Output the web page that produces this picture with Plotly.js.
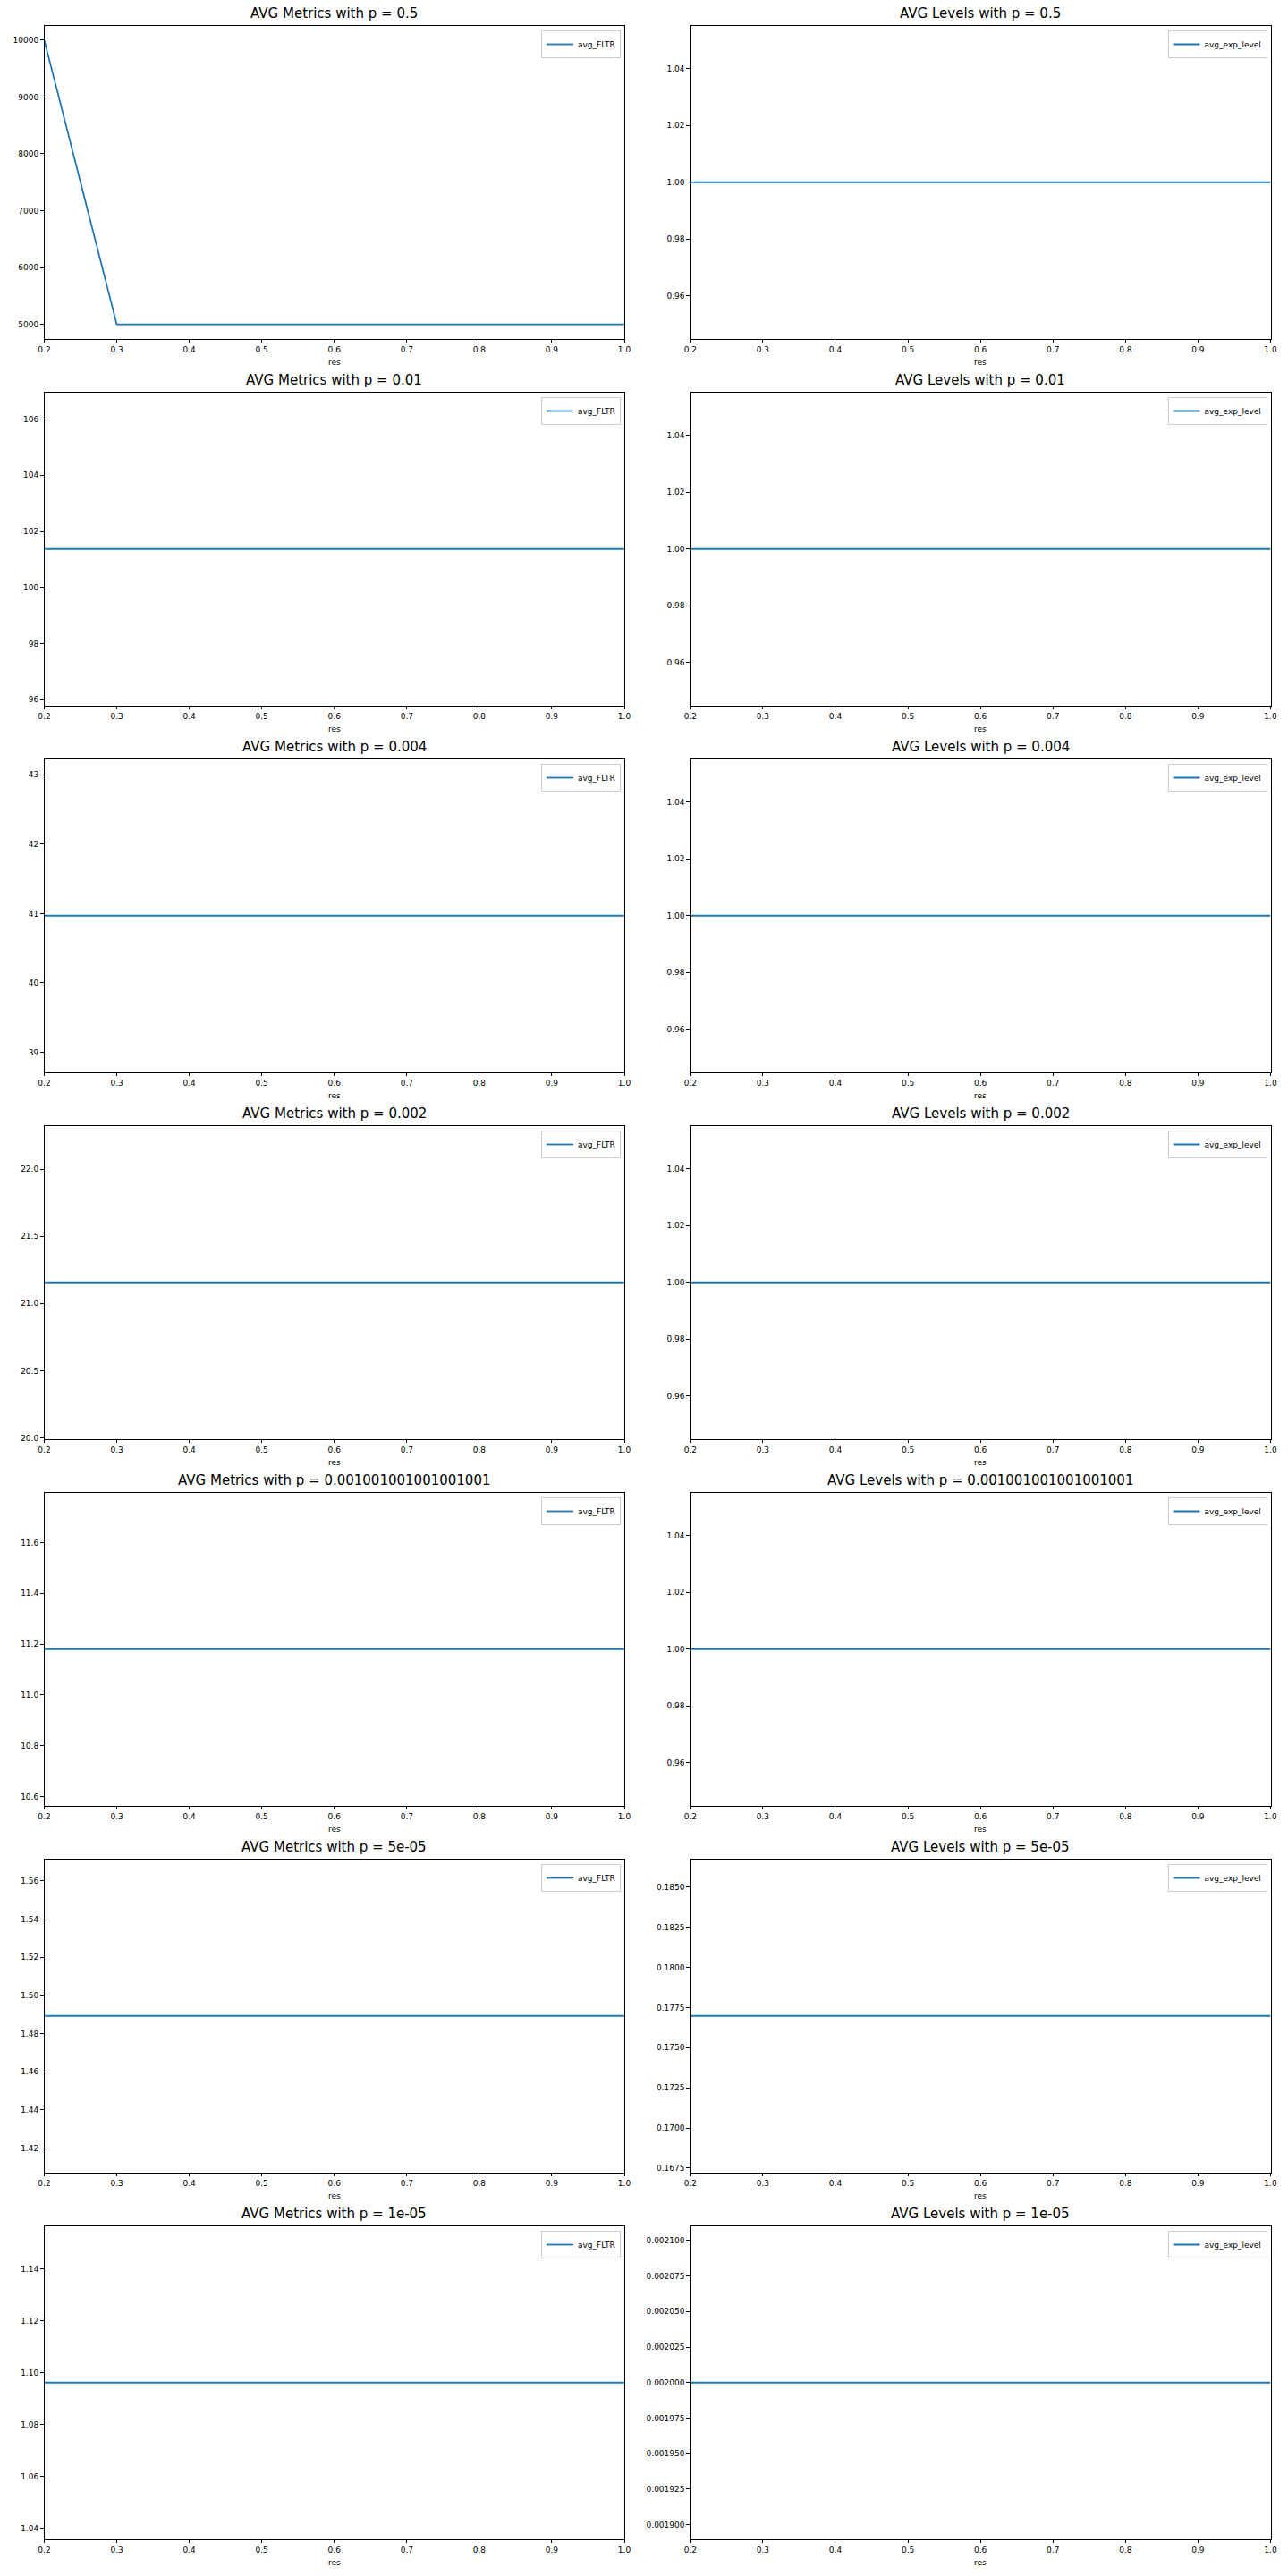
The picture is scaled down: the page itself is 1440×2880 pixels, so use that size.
<!DOCTYPE html>
<html>
<head>
<meta charset="utf-8">
<script src="https://cdn.plot.ly/plotly-3.0.1.min.js"></script>
<style>
  html, body { margin: 0; padding: 0; background: #fff; }
  #chart { width: 1440px; height: 2880px; }
</style>
</head>
<body>
<div id="chart"></div>
<script>
// ---- data ----
const res = [0.2, 0.3, 0.4, 0.5, 0.6, 0.7, 0.8, 0.9, 1.0];
const pLabels = ['0.5', '0.01', '0.004', '0.002', '0.001001001001001001', '5e-05', '1e-05'];

// avg_FLTR per p
const fltr_p0_5     = [10000, 5000, 5000, 5000, 5000, 5000, 5000, 5000, 5000];
const fltr_p0_01    = [101.37, 101.37, 101.37, 101.37, 101.37, 101.37, 101.37, 101.37, 101.37];
const fltr_p0_004   = [40.97, 40.97, 40.97, 40.97, 40.97, 40.97, 40.97, 40.97, 40.97];
const fltr_p0_002   = [21.157, 21.157, 21.157, 21.157, 21.157, 21.157, 21.157, 21.157, 21.157];
const fltr_p0_001   = [11.18, 11.18, 11.18, 11.18, 11.18, 11.18, 11.18, 11.18, 11.18];
const fltr_p5e_05   = [1.4892, 1.4892, 1.4892, 1.4892, 1.4892, 1.4892, 1.4892, 1.4892, 1.4892];
const fltr_p1e_05   = [1.0962, 1.0962, 1.0962, 1.0962, 1.0962, 1.0962, 1.0962, 1.0962, 1.0962];

// avg_exp_level per p
const lvl_p0_5   = [1, 1, 1, 1, 1, 1, 1, 1, 1];
const lvl_p0_01  = [1, 1, 1, 1, 1, 1, 1, 1, 1];
const lvl_p0_004 = [1, 1, 1, 1, 1, 1, 1, 1, 1];
const lvl_p0_002 = [1, 1, 1, 1, 1, 1, 1, 1, 1];
const lvl_p0_001 = [1, 1, 1, 1, 1, 1, 1, 1, 1];
const lvl_p5e_05 = [0.17698, 0.17698, 0.17698, 0.17698, 0.17698, 0.17698, 0.17698, 0.17698, 0.17698];
const lvl_p1e_05 = [0.002, 0.002, 0.002, 0.002, 0.002, 0.002, 0.002, 0.002, 0.002];

// y tick steps / formats (tick labels)
const fltrTickStep = [1000, 2, 1, 0.5, 0.2, 0.02, 0.02];
const fltrTickFmt  = ['d', 'd', 'd', '.1f', '.1f', '.2f', '.2f'];
const lvlTickStep  = [0.02, 0.02, 0.02, 0.02, 0.02, 0.0025, 0.000025];
const lvlTickFmt   = ['.2f', '.2f', '.2f', '.2f', '.2f', '.4f', '.6f'];

const fltrSeries = [fltr_p0_5, fltr_p0_01, fltr_p0_004, fltr_p0_002, fltr_p0_001, fltr_p5e_05, fltr_p1e_05];
const lvlSeries  = [lvl_p0_5, lvl_p0_01, lvl_p0_004, lvl_p0_002, lvl_p0_001, lvl_p5e_05, lvl_p1e_05];

// ---- layout helpers ----
const W = 1440, H = 2880;
const FONT = 'DejaVu Sans, Liberation Sans, sans-serif';
const colX = [[49.5, 698], [771.8, 1420.5]];
const rowTop0 = 29, rowStep = 410, rowH = 349.5;
const C0 = '#1f77b4';

// matplotlib-like autoscale
function mplRange(vals) {
  let lo = Math.min(...vals), hi = Math.max(...vals);
  if (hi - lo <= 1e-12 * Math.max(Math.abs(lo), Math.abs(hi))) {
    if (hi === 0) { lo = -0.05; hi = 0.05; }
    else { lo -= 0.05 * Math.abs(lo); hi += 0.05 * Math.abs(hi); }
  }
  const m = 0.05 * (hi - lo);
  return [lo - m, hi + m];
}

const traces = [];
const layout = {
  width: W, height: H,
  margin: {l: 0, r: 0, t: 0, b: 0},
  paper_bgcolor: '#ffffff', plot_bgcolor: '#ffffff',
  font: {family: FONT, size: 9, color: '#000'},
  showlegend: true,
  annotations: []
};

let idx = 0;
for (let r = 0; r < 7; r++) {
  for (let c = 0; c < 2; c++) {
    idx++;
    const top = rowTop0 + rowStep * r;
    const bot = top + rowH;
    const xd = [colX[c][0] / W, colX[c][1] / W];
    const yd = [1 - bot / H, 1 - top / H];
    const xa = idx === 1 ? 'x' : 'x' + idx;
    const ya = idx === 1 ? 'y' : 'y' + idx;
    const xk = idx === 1 ? 'xaxis' : 'xaxis' + idx;
    const yk = idx === 1 ? 'yaxis' : 'yaxis' + idx;
    const lg = idx === 1 ? 'legend' : 'legend' + idx;

    const ys = c === 0 ? fltrSeries[r] : lvlSeries[r];
    const name = c === 0 ? 'avg_FLTR' : 'avg_exp_level';
    traces.push({
      type: 'scatter', mode: 'lines', x: res, y: ys, name: name,
      xaxis: xa, yaxis: ya, legend: lg,
      line: {color: C0, width: 1.8}
    });

    const axCommon = {
      showline: true, mirror: true, linecolor: '#000', linewidth: 1,
      ticks: 'outside', ticklen: 3.5, tickwidth: 1, tickcolor: '#000',
      showgrid: false, zeroline: false,
      tickfont: {family: FONT, size: 9, color: '#000'}
    };
    layout[xk] = Object.assign({}, axCommon, {
      domain: xd, anchor: ya, range: [0.2, 1.0],
      tick0: 0.2, dtick: 0.1, tickformat: '.1f'
    });
    layout[yk] = Object.assign({}, axCommon, {
      domain: yd, anchor: xa, range: mplRange(ys),
      tick0: 0,
      dtick: c === 0 ? fltrTickStep[r] : lvlTickStep[r],
      tickformat: c === 0 ? fltrTickFmt[r] : lvlTickFmt[r]
    });

    layout[lg] = {
      x: (colX[c][1] - 4) / W, y: 1 - (top + 5) / H,
      xanchor: 'right', yanchor: 'top', xref: 'paper', yref: 'paper',
      bgcolor: 'rgba(255,255,255,0.8)', bordercolor: '#cccccc', borderwidth: 1,
      font: {family: FONT, size: 9, color: '#000'},
      itemwidth: 30, tracegroupgap: 0
    };

    // subplot title
    const ttl = (c === 0 ? 'AVG Metrics with p = ' : 'AVG Levels with p = ') + pLabels[r];
    layout.annotations.push({
      text: ttl, showarrow: false,
      xref: 'paper', yref: 'paper',
      x: (xd[0] + xd[1]) / 2, y: yd[1],
      xanchor: 'center', yanchor: 'bottom', yshift: 3,
      font: {family: FONT, size: 15, color: '#000'}
    });
    // x axis label
    layout.annotations.push({
      text: 'res', showarrow: false,
      xref: 'paper', yref: 'paper',
      x: (xd[0] + xd[1]) / 2, y: yd[0],
      xanchor: 'center', yanchor: 'top', yshift: -19,
      font: {family: FONT, size: 9, color: '#000'}
    });
  }
}

Plotly.newPlot('chart', traces, layout, {displayModeBar: false, staticPlot: true});
</script>
</body>
</html>
